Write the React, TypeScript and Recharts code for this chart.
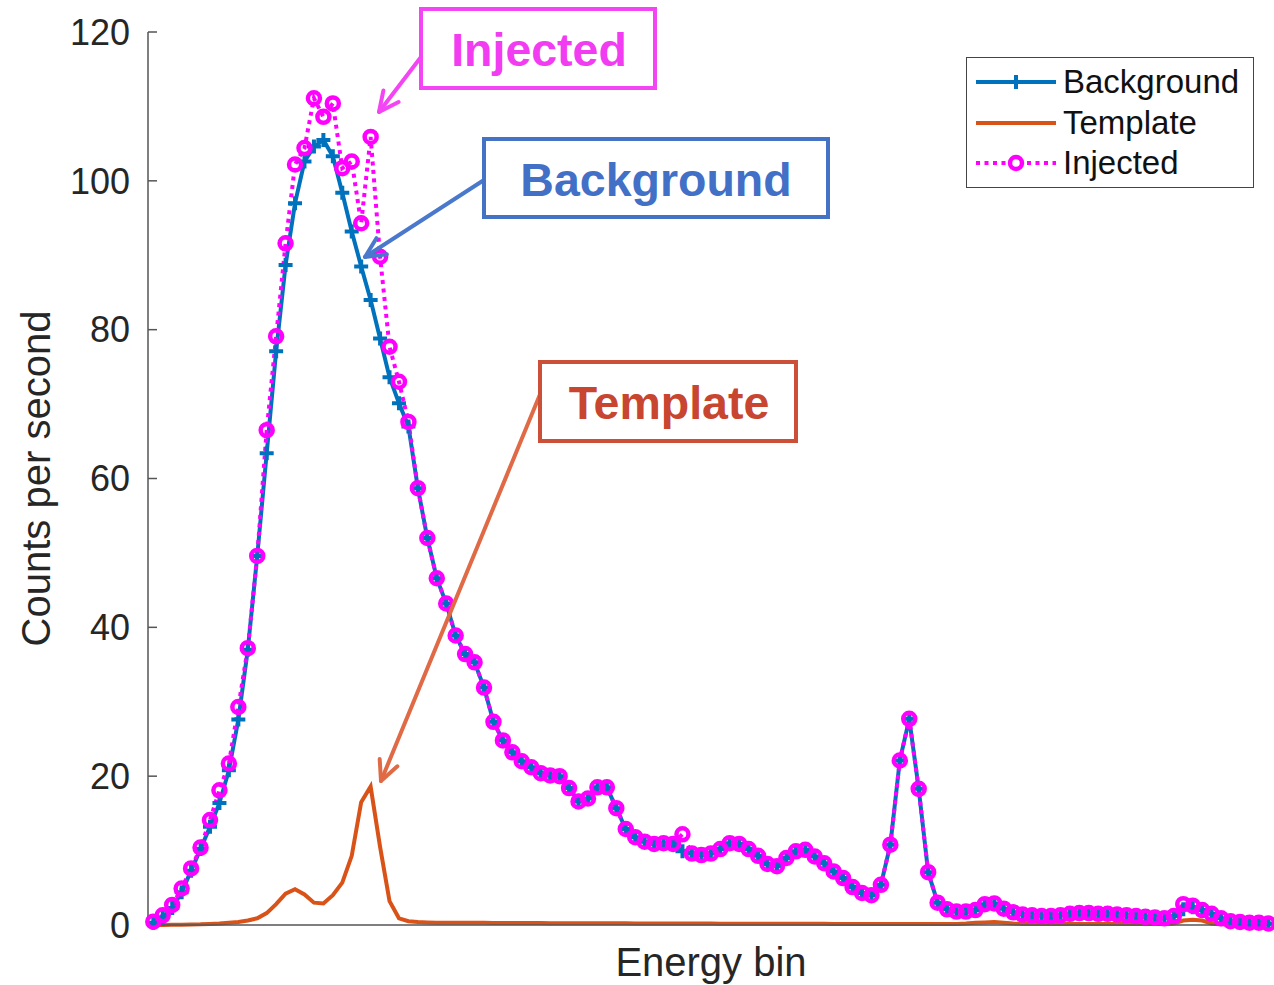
import React from 'react';
import { LineChart, Line, XAxis, YAxis, Legend } from 'recharts';

const FONT = '"Liberation Sans", Arial, Helvetica, sans-serif';
const BLUE = '#0072BD';
const ORANGE = '#D95319';
const MAGENTA = '#FF00FF';

// energy bin index (category axis)
const bins = Array.from({ length: 119 }, (_, i) => i);

const background = [
  0.3, 1.0, 2.3, 4.4, 7.3, 10.2, 13.2, 16.4, 20.8, 27.6,
  37.0, 49.6, 63.4, 77.1, 88.7, 97.0, 102.6, 104.6, 105.5, 103.3,
  98.4, 93.2, 88.5, 84.0, 78.8, 73.6, 70.1, 67.0, 58.7, 52.0,
  46.6, 43.2, 38.9, 36.4, 35.3, 31.9, 27.3, 24.8, 23.2, 22.0,
  21.2, 20.4, 20.1, 20.0, 18.4, 16.6, 17.0, 18.5, 18.5, 15.7,
  12.9, 11.8, 11.2, 10.9, 11.0, 10.9, 9.9, 9.6, 9.4, 9.6,
  10.2, 11.0, 10.9, 10.2, 9.3, 8.2, 7.9, 9.0, 9.9, 10.1,
  9.2, 8.3, 7.2, 6.3, 5.1, 4.3, 4.0, 5.4, 10.8, 22.1,
  27.7, 18.3, 7.1, 3.0, 2.1, 1.8, 1.8, 2.0, 2.8, 2.9,
  2.2, 1.7, 1.4, 1.3, 1.2, 1.2, 1.3, 1.5, 1.6, 1.6,
  1.5, 1.5, 1.4, 1.3, 1.2, 1.1, 1.0, 0.9, 1.2, 2.1,
  2.4, 2.0, 1.5, 0.9, 0.5, 0.4, 0.3, 0.3, 0.2,
];

const template = [
  0.0, 0.0, 0.05, 0.05, 0.08, 0.1, 0.15, 0.2, 0.3, 0.4,
  0.6, 0.9, 1.6, 2.8, 4.2, 4.8, 4.1, 3.0, 2.9, 4.0,
  5.7, 9.3, 16.5, 18.6, 10.5, 3.2, 0.9, 0.5, 0.4, 0.35,
  0.3, 0.3, 0.3, 0.3, 0.3, 0.3, 0.28, 0.28, 0.28, 0.28,
  0.26, 0.26, 0.25, 0.25, 0.25, 0.24, 0.24, 0.23, 0.23, 0.22,
  0.22, 0.21, 0.21, 0.2, 0.2, 0.2, 0.2, 0.19, 0.19, 0.19,
  0.18, 0.18, 0.18, 0.18, 0.17, 0.17, 0.17, 0.17, 0.16, 0.16,
  0.16, 0.16, 0.15, 0.15, 0.15, 0.15, 0.15, 0.15, 0.15, 0.15,
  0.15, 0.15, 0.15, 0.15, 0.15, 0.15, 0.2, 0.3, 0.35, 0.4,
  0.3, 0.2, 0.15, 0.15, 0.15, 0.15, 0.15, 0.15, 0.15, 0.15,
  0.15, 0.15, 0.15, 0.15, 0.15, 0.15, 0.15, 0.15, 0.2, 0.6,
  0.7, 0.6, 0.2, 0.1, 0.1, 0.1, 0.1, 0.1, 0.1,
];

const injected = [
  0.45, 1.3, 2.7, 4.9, 7.6, 10.4, 14.1, 18.1, 21.7, 29.3,
  37.2, 49.6, 66.5, 79.1, 91.6, 102.2, 104.4, 111.1, 108.6, 110.4,
  101.7, 102.6, 94.3, 105.9, 89.8, 77.7, 73.0, 67.6, 58.7, 52.0,
  46.6, 43.2, 38.9, 36.4, 35.3, 31.9, 27.3, 24.8, 23.2, 22.0,
  21.2, 20.4, 20.1, 20.0, 18.4, 16.6, 17.0, 18.5, 18.5, 15.7,
  12.9, 11.8, 11.2, 10.9, 11.0, 10.9, 12.2, 9.6, 9.4, 9.6,
  10.2, 11.0, 10.9, 10.2, 9.3, 8.2, 7.9, 9.0, 9.9, 10.1,
  9.2, 8.3, 7.2, 6.3, 5.1, 4.3, 4.0, 5.4, 10.8, 22.1,
  27.7, 18.3, 7.1, 3.0, 2.1, 1.8, 1.8, 2.0, 2.8, 2.9,
  2.2, 1.7, 1.4, 1.3, 1.2, 1.2, 1.3, 1.5, 1.6, 1.6,
  1.5, 1.5, 1.4, 1.3, 1.2, 1.1, 1.0, 0.9, 1.2, 2.8,
  2.6, 2.0, 1.5, 0.9, 0.5, 0.4, 0.3, 0.3, 0.2,
];

const yTicks = [0, 20, 40, 60, 80, 100, 120];
const seriesNames = ['Background', 'Template', 'Injected'];

const chartData = bins.map((bin, i) => ({
  bin,
  background: background[i],
  template: template[i],
  injected: injected[i],
}));

const PlusDot = (props: any) => {
  const { cx, cy } = props;
  if (cx == null || cy == null) return <g />;
  return (
    <path
      d={`M${cx - 7},${cy}h14M${cx},${cy - 7}v14`}
      stroke={BLUE}
      strokeWidth={4}
      fill="none"
    />
  );
};

const RingDot = (props: any) => {
  const { cx, cy } = props;
  if (cx == null || cy == null) return <g />;
  return <circle cx={cx} cy={cy} r={6} fill="none" stroke={MAGENTA} strokeWidth={4.5} />;
};

const LegendBox = () => (
  <div
    style={{
      width: 288,
      height: 131,
      border: '1.5px solid #444',
      background: '#fff',
      boxSizing: 'border-box',
      position: 'relative',
      fontFamily: FONT,
      fontSize: 33,
      color: '#111',
    }}
  >
    {seriesNames.map((name, k) => (
      <div
        key={name}
        style={{ position: 'absolute', left: 0, top: 4 + k * 40.5, height: 40, display: 'flex', alignItems: 'center' }}
      >
        <svg width={96} height={40} style={{ display: 'block' }}>
          {k === 0 && (
            <g stroke={BLUE} strokeWidth={4} fill="none">
              <line x1={9} y1={20} x2={89} y2={20} />
              <path d="M42,20h14M49,13v14" />
            </g>
          )}
          {k === 1 && <line x1={9} y1={20} x2={89} y2={20} stroke={ORANGE} strokeWidth={4} />}
          {k === 2 && (
            <g stroke={MAGENTA} strokeWidth={4} fill="none">
              <line x1={9} y1={20} x2={89} y2={20} strokeDasharray="4 4.5" />
              <circle cx={49} cy={20} r={6} fill="#fff" strokeWidth={4.5} />
            </g>
          )}
        </svg>
        <span style={{ lineHeight: '40px' }}>{name}</span>
      </div>
    ))}
  </div>
);

const Arrow = ({ x1, y1, x2, y2, color }: { x1: number; y1: number; x2: number; y2: number; color: string }) => {
  const ang = Math.atan2(y2 - y1, x2 - x1);
  const len = 22;
  const spread = 0.45;
  const a1 = ang + Math.PI - spread;
  const a2 = ang + Math.PI + spread;
  return (
    <g stroke={color} strokeWidth={4} fill="none" strokeLinecap="round" strokeLinejoin="round">
      <line x1={x1} y1={y1} x2={x2} y2={y2} />
      <polyline
        points={`${x2 + len * Math.cos(a1)},${y2 + len * Math.sin(a1)} ${x2},${y2} ${x2 + len * Math.cos(a2)},${y2 + len * Math.sin(a2)}`}
      />
    </g>
  );
};

const Callouts = () => (
  <svg
    width={1274}
    height={985}
    style={{ position: 'absolute', left: 0, top: 0, pointerEvents: 'none' }}
  >
    <g fontFamily={FONT} fontWeight="bold" fontSize={46.5} textAnchor="middle">
      <Arrow x1={421} y1={57} x2={379} y2={112} color="#F445F4" />
      <rect x={421} y={9} width={234} height={79} fill="#fff" stroke="#F445F4" strokeWidth={4} />
      <text x={539} y={66} fill="#F23CF2">Injected</text>

      <Arrow x1={484} y1={180} x2={365} y2={257} color="#4A78CC" />
      <rect x={484} y={139} width={344} height={78} fill="#fff" stroke="#4472C4" strokeWidth={4} />
      <text x={656} y={196} fill="#4170C6">Background</text>

      <Arrow x1={541} y1={392} x2={381} y2={781} color="#E06A45" />
      <rect x={540} y={362} width={256} height={79} fill="#fff" stroke="#CC5037" strokeWidth={4} />
      <text x={669} y={419} fill="#C8452F">Template</text>
    </g>
  </svg>
);

const App = () => (
  <div
    style={{
      position: 'fixed',
      left: 0,
      top: 0,
      width: 1274,
      height: 985,
      overflow: 'hidden',
      background: '#fff',
    }}
  >
    <LineChart width={1274} height={985} data={chartData} margin={{ top: 32, right: 0, bottom: 0, left: 0 }}>
      <XAxis
        dataKey="bin"
        type="number"
        domain={[-0.56, 118.6]}
        tick={false}
        tickLine={false}
        height={60}
        axisLine={{ stroke: '#555', strokeWidth: 1.5 }}
        label={{
          content: (p: any) => (
            <text
              x={p.viewBox.x + p.viewBox.width / 2}
              y={p.viewBox.y + 51}
              textAnchor="middle"
              fontFamily={FONT}
              fontSize={40}
              fill="#262626"
            >
              Energy bin
            </text>
          ),
        }}
      />
      <YAxis
        type="number"
        domain={[0, 120]}
        ticks={yTicks}
        width={148}
        tickSize={-9}
        tickMargin={27}
        tick={{ fill: '#262626', fontSize: 36, fontFamily: FONT }}
        axisLine={{ stroke: '#555', strokeWidth: 1.5 }}
        tickLine={{ stroke: '#555', strokeWidth: 1.5 }}
        label={{
          content: (p: any) => {
            const cx = p.viewBox.x + 50;
            const cy = p.viewBox.y + p.viewBox.height / 2;
            return (
              <text
                x={cx}
                y={cy}
                transform={`rotate(-90, ${cx}, ${cy})`}
                textAnchor="middle"
                fontFamily={FONT}
                fontSize={40}
                fill="#262626"
              >
                Counts per second
              </text>
            );
          },
        }}
      />
      <Legend
        layout="vertical"
        align="center"
        verticalAlign="middle"
        content={() => <LegendBox />}
        wrapperStyle={{ position: 'absolute', left: 966, top: 57, width: 288, height: 131 }}
      />
      <Line
        type="linear"
        dataKey="background"
        name="Background"
        stroke={BLUE}
        strokeWidth={4}
        dot={PlusDot}
        activeDot={false}
        isAnimationActive={false}
      />
      <Line
        type="linear"
        dataKey="template"
        name="Template"
        stroke={ORANGE}
        strokeWidth={4}
        dot={false}
        activeDot={false}
        isAnimationActive={false}
      />
      <Line
        type="linear"
        dataKey="injected"
        name="Injected"
        stroke={MAGENTA}
        strokeWidth={4}
        strokeDasharray="4 4.5"
        dot={RingDot}
        activeDot={false}
        isAnimationActive={false}
      />
    </LineChart>
    <Callouts />
  </div>
);

export default App;
